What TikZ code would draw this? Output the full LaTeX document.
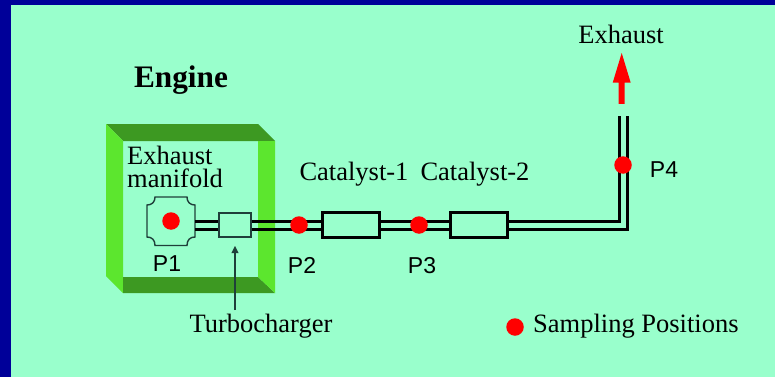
\documentclass[tikz,border=0pt]{standalone}
\usepackage{fontspec}
\setmainfont{Liberation Serif}
\setsansfont{Liberation Sans}
\definecolor{bgmint}{HTML}{99FFCC}
\definecolor{bgnavy}{HTML}{000099}
\definecolor{frlight}{HTML}{5CE62E}
\definecolor{frdark}{HTML}{3D9922}
\definecolor{outl}{HTML}{1F3F3A}
\tikzset{
  serif/.style={anchor=base,inner sep=0pt,font=\fontsize{26.5}{26.5}\selectfont},
  sans/.style={anchor=base,inner sep=0pt,font=\sffamily\fontsize{23}{23}\selectfont},
  pipe/.style={draw=black,line width=3pt},
  cat/.style={draw=black,line width=3pt,fill=bgmint,minimum width=57pt,minimum height=25pt,inner sep=0pt},
  turbo/.style={draw=outl,line width=1.4pt,fill=bgmint,minimum width=32pt,minimum height=24pt,inner sep=0pt},
  dot/.style={circle,fill=red,draw=none,minimum size=17.5pt,inner sep=0pt},
}
\begin{document}
\begin{tikzpicture}[x=1pt,y=-1pt]
\useasboundingbox (0,0) rectangle (775,377);
\fill[bgnavy] (0,0) rectangle (775,377);
\fill[bgmint] (11,5) rectangle (775,377);
% engine frame
\fill[frdark] (106,124) -- (258,124) -- (275,141) -- (123,141) -- cycle;
\fill[frlight] (106,124) -- (123,141) -- (123,293) -- (106,276) -- cycle;
\fill[frdark] (123,277) -- (258,277) -- (275,293) -- (123,293) -- cycle;
\fill[frlight] (258,141) -- (275,141) -- (275,293) -- (258,277) -- cycle;
% texts
\node[serif,font=\bfseries\fontsize{31.3}{31.3}\selectfont] (engine) at (181,88) {Engine};
\node[serif,anchor=base west,align=left,font=\fontsize{26.5}{23}\selectfont] (exh) at (127,187) {Exhaust\\manifold};
\node[serif] (cat1t) at (354,180) {Catalyst-1};
\node[serif] (cat2t) at (475,180) {Catalyst-2};
\node[serif] (exhaust) at (621,44) {Exhaust};
\node[serif] (turbot) at (261,332) {Turbocharger};
\node[serif,anchor=base west] (samp) at (533,332) {Sampling Positions};
\node[sans] (p1) at (167,271) {P1};
\node[sans] (p2) at (302,273) {P2};
\node[sans] (p3) at (422,273) {P3};
\node[sans] (p4) at (664,177) {P4};
% manifold
\coordinate (mc) at (171,221);
\draw[outl,line width=1.4pt,fill=bgmint]
  (155,197) -- (187,197) .. controls (187,202) and (190,205) .. (195,205) -- (195,237)
  .. controls (190,237) and (187,240) .. (187,245.5) -- (155,245.5)
  .. controls (155,240) and (152,237) .. (147,237) -- (147,205)
  .. controls (152,205) and (155,202) .. (155,197) -- cycle;
\coordinate (me1) at (195,221);
\coordinate (me2) at (195,229);
% boxes
\node[turbo] (tb) at (235,225) {};
\node[cat] (c1) at (351,225) {};
\node[cat] (c2) at (479,225) {};
\coordinate (top1) at (619,116);
\coordinate (top2) at (627,116);
% pipes
\draw[pipe] (me1) -- (tb.west |- me1);
\draw[pipe] (me2) -- (tb.west |- me2);
\draw[pipe] (tb.east |- me1) -- (c1.west |- me1);
\draw[pipe] (tb.east |- me2) -- (c1.west |- me2);
\draw[pipe] (c1.east |- me1) -- (c2.west |- me1);
\draw[pipe] (c1.east |- me2) -- (c2.west |- me2);
\draw[pipe,line join=miter] (c2.east |- me1) -- (top1 |- me1) -- (top1);
\draw[pipe,line join=miter] (c2.east |- me2) -- (top2 |- me2) -- (top2);
% sampling dots
\node[dot] (d1) at (mc) {};
\node[dot] (d2) at (299,225) {};
\node[dot] (d3) at (419,225) {};
\node[dot] (d4) at (623,165) {};
\node[dot] (d5) at (515,327) {};
% red arrow
\fill[red] (621.7,53) -- (630.7,82.7) -- (624.7,82.7) -- (624.7,104) -- (618.7,104) -- (618.7,82.7) -- (612.7,82.7) -- cycle;
% turbocharger pointer
\coordinate (tip) at (235,246);
\coordinate (tail) at (235,310);
\draw[outl,line width=1.4pt] (tail) -- (235,252);
\fill[outl] (tip) -- (238.6,253) -- (231.4,253) -- cycle;
\end{tikzpicture}
\end{document}
